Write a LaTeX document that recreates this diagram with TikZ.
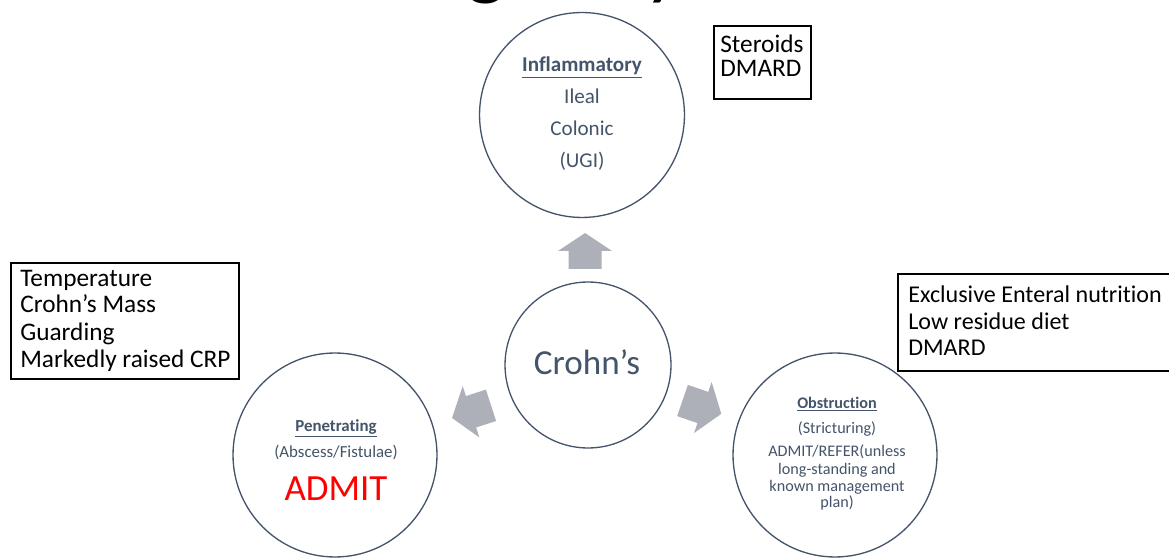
\documentclass[tikz,border=0pt]{standalone}
\usepackage{fontspec}
\setmainfont[Ligatures=NoCommon]{Carlito}
\definecolor{txt}{HTML}{44546A}
\definecolor{arr}{HTML}{ADB0B8}
\definecolor{admit}{HTML}{FF0000}
\newcommand\blockarr[5]{%
  \fill[arr, shift={(#1,#2)}, rotate=#3] (0,-16.5) -- (#4-#5,-16.5) -- (#4-#5,-27) -- (#4,0) -- (#4-#5,27) -- (#4-#5,16.5) -- (0,16.5) -- cycle;}
\begin{document}
\begin{tikzpicture}[x=0.02cm,y=-0.02cm,
  ring/.style={circle,draw=txt,line width=0.75pt,inner sep=0pt},
  ctext/.style={text=txt,inner sep=0pt,anchor=base},
  boxframe/.style={draw=black,line width=1.1pt,fill=white,inner sep=0pt,anchor=north west},
  btext/.style={anchor=base west,inner sep=0pt,font=\fontsize{14.4}{17}\selectfont},
  ]
\useasboundingbox (0,0) rectangle (1169,560);
\clip (0,0) rectangle (1169,560);
\fill[white] (0,0) rectangle (1169,560);

% title fragments (cut off at the top)
\node[anchor=base,inner sep=0pt,font=\fontsize{48}{56}\selectfont] (titleg) at (486,-10) {g};
\node[anchor=base,inner sep=0pt,font=\fontsize{48}{56}\selectfont] (titley) at (664,-10) {y};

% circles
\node[ring,minimum size=4.1cm] (infl) at (582,115) {};
\node[ring,minimum size=3.32cm] (crohn) at (588,365) {};
\node[ring,minimum size=4.08cm] (pen) at (335,455) {};
\node[ring,minimum size=4.08cm] (obs) at (835,455) {};

% block arrows
\blockarr{585}{269}{90}{36}{18}
\blockarr{682.5}{400.5}{-19}{41}{19.5}
\blockarr{491}{405.3}{198}{41}{20}

% Inflammatory text
\begin{scope}[font=\fontsize{12}{14}\selectfont]
\node[ctext] (inflT) at (582,72) {\underline{\textbf{Inflammatory}}};
\node[ctext] (inflA) at (582,104) {Ileal};
\node[ctext] (inflB) at (582,136) {Colonic};
\node[ctext] (inflC) at (582,168) {(UGI)};
\end{scope}

% Crohn's
\node[ctext,font=\fontsize{20}{24}\selectfont] (crohnT) at (587,375) {Crohn’s};

% Penetrating
\node[ctext,font=\fontsize{9.6}{12}\selectfont] (penT) at (336,431) {\underline{\textbf{Penetrating}}};
\node[ctext,font=\fontsize{9.6}{12}\selectfont] (penA) at (336,457) {(Abscess/Fistulae)};
\node[ctext,text=admit,font=\fontsize{21}{25}\selectfont] (penB) at (336,500) {ADMIT};

% Obstruction
\begin{scope}[font=\fontsize{9.2}{11}\selectfont]
\node[ctext] (obsT) at (837,408) {\underline{\textbf{Obstruction}}};
\node[ctext] (obsA) at (837,433) {(Stricturing)};
\node[ctext] (obsB) at (837,456) {ADMIT/REFER(unless};
\node[ctext] (obsC) at (837,474) {long-standing and};
\node[ctext] (obsD) at (837,491) {known management};
\node[ctext] (obsE) at (837,507) {plan)};
\end{scope}

% boxes
\node[boxframe,minimum width=1.94cm,minimum height=1.46cm] (boxS) at (713,25) {};
\node[btext] (boxS1) at (720,53) {Steroids};
\node[btext] (boxS2) at (720,77) {DMARD};

\node[boxframe,minimum width=4.56cm,minimum height=2.32cm] (boxL) at (10,262) {};
\node[btext] (boxL1) at (20,287) {Temperature};
\node[btext] (boxL2) at (20,313) {Crohn’s Mass};
\node[btext] (boxL3) at (20,340) {Guarding};
\node[btext] (boxL4) at (20,367) {Markedly raised CRP};

\node[boxframe,minimum width=5.6cm,minimum height=1.94cm] (boxR) at (897,273) {};
\node[btext,font=\fontsize{13.7}{17}\selectfont] (boxR1) at (908,303) {Exclusive Enteral nutrition};
\node[btext,font=\fontsize{13.7}{17}\selectfont] (boxR2) at (908,330) {Low residue diet};
\node[btext,font=\fontsize{13.7}{17}\selectfont] (boxR3) at (908,356) {DMARD};
\end{tikzpicture}
\end{document}
